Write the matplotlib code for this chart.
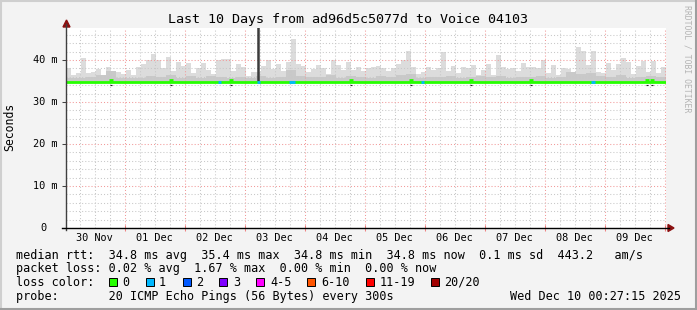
"""SmokePing style 10 day latency graph."""

import matplotlib
matplotlib.use('Agg')
from matplotlib import pyplot as plt
from matplotlib import transforms
from matplotlib.lines import Line2D
from matplotlib.patches import Polygon, Rectangle

plt.rcParams['font.family'] = ['DejaVu Sans Mono']

# time axis: hours since Sun Nov 30 00:27:15 2025, 240 h window
first_midnight = 23.546
day_labels = ['30 Nov', '01 Dec', '02 Dec', '03 Dec', '04 Dec',
              '05 Dec', '06 Dec', '07 Dec', '08 Dec', '09 Dec']

# smoke: max ping per 2 h bin (ms)
smoke_top = [38.2, 36.5, 36.8, 40.4, 37.0, 37.2, 37.8, 36.5, 38.3, 36.0,
             37.2, 36.6, 37.6, 36.5, 38.4, 39.0, 40.0, 41.4, 40.0, 38.0,
             40.8, 37.5, 39.6, 38.5, 39.4, 36.8, 38.0, 39.4, 37.6, 36.6,
             40.0, 40.2, 40.2, 37.5, 39.0, 38.4, 36.3, 37.2, 37.2, 38.6,
             40.0, 37.8, 39.0, 37.5, 39.6, 45.0, 39.0, 38.6, 37.2, 37.9,
             38.8, 38.0, 36.6, 40.0, 38.8, 37.6, 39.6, 37.6, 38.4, 37.4,
             38.0, 38.4, 38.6, 38.0, 37.5, 38.0, 39.0, 40.0, 42.1, 38.3,
             36.6, 37.2, 38.3, 37.6, 38.0, 42.0, 37.4, 38.6, 36.8, 38.4,
             38.0, 38.8, 36.4, 37.6, 39.0, 36.4, 41.3, 38.4, 37.9, 38.0,
             37.5, 39.2, 38.3, 38.4, 38.0, 40.0, 37.0, 38.8, 36.4, 38.2,
             37.8, 36.8, 43.2, 42.1, 38.8, 42.1, 37.1, 36.8, 39.4, 37.6,
             39.0, 40.4, 39.6, 36.6, 38.6, 39.8, 37.1, 39.8, 36.8, 38.3]

# denser smoke per 4 h bin (ms)
smoke_mid = [35.8, 35.6, 35.9, 36.4, 37.4, 35.7, 35.8, 35.6, 36.2, 36.0,
             36.4, 35.8, 36.2, 35.8, 36.3, 36.0, 35.8, 35.9, 35.6, 36.1,
             35.8, 36.0, 37.6, 36.2, 36.0, 35.9, 36.4, 35.8, 36.1, 35.9,
             35.8, 36.2, 35.9, 36.4, 36.6, 35.8, 36.0, 35.9, 36.2, 35.8,
             36.0, 36.1, 35.9, 36.3, 35.8, 36.0, 35.9, 36.2, 35.8, 36.0,
             37.2, 36.6, 36.8, 36.2, 36.0, 36.4, 35.8, 36.0, 36.2, 35.9]
smoke_floor = 34.6

median_rtt = 34.8
# short rises of the median line (hour, width h, value ms)
bump_hours = [18.0, 42.0, 66.0, 114.0, 138.0, 162.0, 186.0, 232.4, 234.4]
bump_width = 1.6
bump_value = 35.15
# intervals with 1/20 loss (hour, width h)
loss1_hours = [60.8, 76.4, 89.2, 142.0, 210.0]
loss1_width = [1.2, 1.2, 2.4, 1.2, 1.6]
spike_hour = 76.8

loss_labels = ['0', '1', '2', '3', '4-5', '6-10', '11-19', '20/20']
loss_colors = ['#26ff00', '#00b8ff', '#0059ff', '#7e00ff',
               '#ff00ff', '#ff5500', '#ff0000', '#a10000']
loss_box_x = [109, 146, 183, 219, 256, 307, 366, 431]
loss_text_x = [122, 159, 196, 233, 270, 321, 380, 444]

W, H = 697, 310


def fx(px):
    return px / W


def fy(py):
    return 1 - py / H


fig = plt.figure(figsize=(W / 100, H / 100), dpi=100, facecolor='#f3f3f3')
ax = fig.add_axes([fx(66), fy(228), 600 / W, 200 / H])
ax.set_facecolor('white')
for s in ax.spines.values():
    s.set_visible(False)

# smoke
edges2 = [2 * i for i in range(len(smoke_top) + 1)]
edges4 = [4 * i for i in range(len(smoke_mid) + 1)]
ax.stairs(smoke_top, edges2, baseline=smoke_floor, fill=True,
          color='#dcdcdc', zorder=1)
ax.stairs(smoke_mid, edges4, baseline=smoke_floor, fill=True,
          color='#c9c9c9', zorder=1.1)
ax.vlines(spike_hour, median_rtt, 60, color='#3c3c3c', lw=1.8, zorder=2)

# median line
ax.plot([0, 240], [median_rtt, median_rtt], color=loss_colors[0],
        lw=2.0, solid_capstyle='butt', zorder=3)
for h in bump_hours:
    ax.plot([h - bump_width / 2, h + bump_width / 2], [bump_value] * 2,
            color=loss_colors[0], lw=2.0, solid_capstyle='butt', zorder=3)
    ax.plot([h - 0.3, h + 0.3], [34.15] * 2, color='#222222', lw=0.8,
            solid_capstyle='butt', zorder=3)
for h, w in zip(loss1_hours, loss1_width):
    ax.plot([h, h + w], [median_rtt, median_rtt], color=loss_colors[1],
            lw=2.0, solid_capstyle='butt', zorder=3.1)

# grid
ax.set_axisbelow('line')
ax.set_yticks([0, 10, 20, 30, 40])
ax.set_yticks([v for v in range(0, 48, 2)], minor=True)
midnights = [first_midnight + 24 * k for k in range(10)]
ax.set_xticks(midnights)
ax.set_xticks([first_midnight - 18 + 6 * k for k in range(40)], minor=True)
ax.set_xlim(0, 240)
ax.set_ylim(0, 200 / 4.2)
ax.grid(which='major', color='#f29a9a', lw=0.75, ls=(0, (1, 2)))
ax.grid(which='minor', color='#c8c8c8', lw=0.75, ls=(0, (1, 2)))
ax.tick_params(axis='x', which='major', direction='inout', length=4,
               width=0.75, color='#f08080', labelbottom=False)
ax.tick_params(axis='x', which='minor', length=0, labelbottom=False)
ax.tick_params(axis='y', which='major', direction='out', length=3,
               width=0.75, color='#444444', labelleft=False)
ax.tick_params(axis='y', which='minor', length=0, labelleft=False)

# axis labels
ylab = transforms.blended_transform_factory(fig.transFigure, ax.transData)
for v in [10, 20, 30, 40]:
    ax.text(fx(58), v, f'{v} m', transform=ylab, ha='right', va='center',
            fontsize=7.4)
ax.text(fx(46.5), 0, '0', transform=ylab, ha='right', va='center',
        fontsize=7.4)
xlab = transforms.blended_transform_factory(ax.transData, fig.transFigure)
for k, lab in enumerate(day_labels):
    ax.text(first_midnight - 12 + 24 * k, fy(241), lab, transform=xlab,
            ha='center', va='baseline', fontsize=7.4)

# axes lines and arrows
fig.add_artist(Line2D([fx(66), fx(66)], [fy(230), fy(24)],
                      color='#404040', lw=1.0))
fig.add_artist(Line2D([fx(62), fx(669)], [fy(228), fy(228)],
                      color='#000000', lw=1.0))
fig.add_artist(Polygon([(fx(63), fy(27)), (fx(70), fy(27)), (fx(66.5), fy(20))],
                       closed=True, color='#8b1010'))
fig.add_artist(Polygon([(fx(668), fy(224.5)), (fx(668), fy(231.5)),
                        (fx(674), fy(228))], closed=True, color='#8b1010'))

# titles
fig.text(fx(348), fy(19), 'Last 10 Days from ad96d5c5077d to Voice 04103',
         ha='center', va='center', fontsize=9.6)
fig.text(fx(10), fy(127), 'Seconds', rotation=90, ha='center', va='center',
         fontsize=8.3)
fig.text(fx(687), fy(5), 'RRDTOOL / TOBI OETIKER', rotation=270,
         ha='center', va='top', fontsize=5.9, color='#b4b4b4')

# legend
fs = 8.5
fig.text(fx(15.5), fy(258.5),
         'median rtt:  34.8 ms avg  35.4 ms max  34.8 ms min  '
         '34.8 ms now  0.1 ms sd  443.2   am/s', fontsize=fs, va='baseline')
fig.text(fx(15.5), fy(272.2),
         'packet loss: 0.02 % avg  1.67 % max  0.00 % min  0.00 % now',
         fontsize=fs, va='baseline')
fig.text(fx(15.5), fy(285.9), 'loss color:', fontsize=fs, va='baseline')
for bx, tx, lab, col in zip(loss_box_x, loss_text_x, loss_labels, loss_colors):
    fig.add_artist(Rectangle((fx(bx), fy(286)), 8 / W, 8 / H,
                             facecolor=col, edgecolor='black', lw=0.7))
    fig.text(fx(tx), fy(285.9), lab, fontsize=fs, va='baseline')
fig.text(fx(15.5), fy(299.6),
         'probe:       20 ICMP Echo Pings (56 Bytes) every 300s',
         fontsize=fs, va='baseline')
fig.text(fx(681), fy(299.6), 'Wed Dec 10 00:27:15 2025', fontsize=fs,
         va='baseline', ha='right')

# frame
fig.add_artist(Line2D([0, 1], [fy(0.5)] * 2, color='#cfcfcf', lw=1.5))
fig.add_artist(Line2D([fx(0.5)] * 2, [0, 1], color='#cfcfcf', lw=1.5))
fig.add_artist(Line2D([0, 1], [fy(309)] * 2, color='#9e9e9e', lw=1.5))
fig.add_artist(Line2D([fx(696)] * 2, [0, 1], color='#9e9e9e', lw=1.5))

fig.savefig('out.png', dpi=100, facecolor=fig.get_facecolor())
